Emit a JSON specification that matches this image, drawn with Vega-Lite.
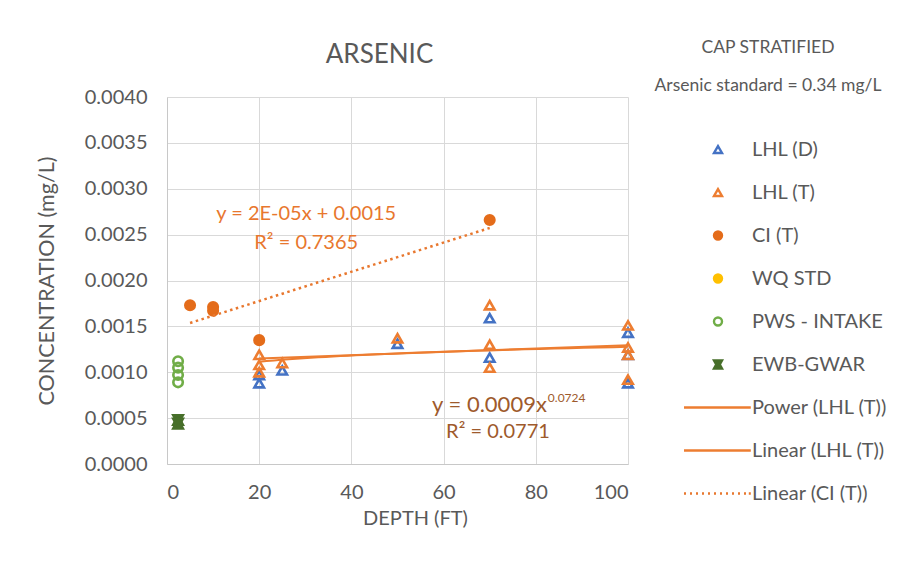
{
  "$schema": "https://vega.github.io/schema/vega-lite/v6.json",
  "width": 461,
  "height": 367,
  "autosize": {"type": "none"},
  "padding": {"left": 167, "top": 97, "right": 285, "bottom": 107},
  "background": "white",
  "title": {
    "text": "ARSENIC",
    "font": "Lato",
    "fontSize": 26,
    "fontWeight": "normal",
    "color": "#595959",
    "frame": "group",
    "anchor": "middle",
    "dx": -18,
    "offset": -29
  },
  "config": {
    "view": {"stroke": null},
    "axis": {
      "labelFont": "Lato",
      "titleFont": "Lato",
      "labelColor": "#595959",
      "titleColor": "#595959",
      "titleFontWeight": "normal",
      "gridColor": "#d9d9d9",
      "domainColor": "#c8c8c8",
      "ticks": false,
      "labelFontSize": 20
    }
  },
  "datasets": {
    "pts": [
      {"series": "LHL (D)", "depth": 20, "conc": 0.00097},
      {"series": "LHL (D)", "depth": 20, "conc": 0.00088},
      {"series": "LHL (D)", "depth": 25, "conc": 0.00102},
      {"series": "LHL (D)", "depth": 50, "conc": 0.00131},
      {"series": "LHL (D)", "depth": 70, "conc": 0.00159},
      {"series": "LHL (D)", "depth": 70, "conc": 0.00116},
      {"series": "LHL (D)", "depth": 100, "conc": 0.00143},
      {"series": "LHL (D)", "depth": 100, "conc": 0.00119},
      {"series": "LHL (D)", "depth": 100, "conc": 0.00088},
      {"series": "LHL (T)", "depth": 20, "conc": 0.00119},
      {"series": "LHL (T)", "depth": 20, "conc": 0.00108},
      {"series": "LHL (T)", "depth": 20, "conc": 0.00100},
      {"series": "LHL (T)", "depth": 25, "conc": 0.00110},
      {"series": "LHL (T)", "depth": 50, "conc": 0.00137},
      {"series": "LHL (T)", "depth": 70, "conc": 0.00173},
      {"series": "LHL (T)", "depth": 70, "conc": 0.00130},
      {"series": "LHL (T)", "depth": 70, "conc": 0.00105},
      {"series": "LHL (T)", "depth": 100, "conc": 0.00151},
      {"series": "LHL (T)", "depth": 100, "conc": 0.00127},
      {"series": "LHL (T)", "depth": 100, "conc": 0.00119},
      {"series": "LHL (T)", "depth": 100, "conc": 0.00092},
      {"series": "CI (T)", "depth": 5, "conc": 0.00173},
      {"series": "CI (T)", "depth": 10, "conc": 0.00171},
      {"series": "CI (T)", "depth": 10, "conc": 0.00167},
      {"series": "CI (T)", "depth": 20, "conc": 0.00135},
      {"series": "CI (T)", "depth": 70, "conc": 0.00266},
      {"series": "PWS - INTAKE", "depth": 2.4, "conc": 0.00112},
      {"series": "PWS - INTAKE", "depth": 2.4, "conc": 0.00105},
      {"series": "PWS - INTAKE", "depth": 2.4, "conc": 0.00097},
      {"series": "PWS - INTAKE", "depth": 2.4, "conc": 0.00089},
      {"series": "EWB-GWAR", "depth": 2.4, "conc": 0.00048},
      {"series": "EWB-GWAR", "depth": 2.4, "conc": 0.00044}
    ]
  },
  "layer": [
    {
      "data": {"name": "pts"},
      "encoding": {
        "x": {
          "field": "depth", "type": "quantitative",
          "scale": {"domain": [0, 100], "nice": false},
          "axis": {"values": [0, 20, 40, 60, 80, 100], "title": "DEPTH (FT)", "titleFontSize": 20, "labelPadding": 18, "titlePadding": 6, "titleX": 248}
        },
        "y": {
          "field": "conc", "type": "quantitative",
          "scale": {"domain": [0, 0.004], "nice": false},
          "axis": {"values": [0, 0.0005, 0.001, 0.0015, 0.002, 0.0025, 0.003, 0.0035, 0.004], "format": ".4f", "title": "CONCENTRATION (mg/L)", "titleFontSize": 21.5, "labelPadding": 20, "titlePadding": 26}
        }
      },
      "layer": [
        {
          "mark": {"type": "point", "strokeWidth": 2.6, "opacity": 1, "clip": false},
          "encoding": {
            "stroke": {
              "field": "series", "type": "nominal",
              "scale": {
                "domain": ["LHL (D)", "LHL (T)", "CI (T)", "WQ STD", "PWS - INTAKE", "EWB-GWAR", "Power (LHL (T))", "Linear (LHL (T))", "Linear (CI (T))"],
                "range": ["#4472C4", "#ED7D31", "#E46C1A", "#FFC000", "#70AD47", "#476F2A", "#ED7D31", "#ED7D31", "#E8772E"]
              },
              "legend": {
                "orient": "none",
                "direction": "vertical",
                "legendX": 481,
                "legendY": -58,
                "padding": 0,
                "title": ["CAP STRATIFIED", "Arsenic standard = 0.34 mg/L"],
                "titleFont": "Lato",
                "titleFontSize": 17.5,
                "titleFontWeight": "normal",
                "titleColor": "#595959",
                "titleLineHeight": 38,
                "titleAnchor": "middle",
                "titleLimit": 500,
                "titlePadding": 45,
                "labelFont": "Lato",
                "labelFontSize": 20,
                "labelColor": "#595959",
                "labelOffset": 24,
                "symbolOffset": 60,
                "labelLimit": 300,
                "symbolSize": 64,
                "symbolStrokeWidth": 2.4,
                "rowPadding": 23
              }
            },
            "fill": {
              "field": "series", "type": "nominal",
              "scale": {
                "domain": ["LHL (D)", "LHL (T)", "CI (T)", "WQ STD", "PWS - INTAKE", "EWB-GWAR", "Power (LHL (T))", "Linear (LHL (T))", "Linear (CI (T))"],
                "range": ["transparent", "transparent", "#E46C1A", "#FFC000", "transparent", "#476F2A", "transparent", "transparent", "transparent"]
              },
              "legend": {
                "orient": "none",
                "direction": "vertical",
                "legendX": 481,
                "legendY": -58,
                "padding": 0,
                "title": ["CAP STRATIFIED", "Arsenic standard = 0.34 mg/L"],
                "titleFont": "Lato",
                "titleFontSize": 17.5,
                "titleFontWeight": "normal",
                "titleColor": "#595959",
                "titleLineHeight": 38,
                "titleAnchor": "middle",
                "titleLimit": 500,
                "titlePadding": 45,
                "labelFont": "Lato",
                "labelFontSize": 20,
                "labelColor": "#595959",
                "labelOffset": 24,
                "symbolOffset": 60,
                "labelLimit": 300,
                "symbolSize": 64,
                "symbolStrokeWidth": 2.4,
                "rowPadding": 23
              }
            },
            "shape": {
              "field": "series", "type": "nominal",
              "scale": {
                "domain": ["LHL (D)", "LHL (T)", "CI (T)", "WQ STD", "PWS - INTAKE", "EWB-GWAR", "Power (LHL (T))", "Linear (LHL (T))", "Linear (CI (T))"],
                "range": ["triangle-up", "triangle-up", "circle", "circle", "circle", "M-1,-1H1L0.45,0L1,1H-1L-0.45,0Z", "M-8.5,0H8.2", "M-8.5,0H8.2", "M-8.5,0h0.5M-7,0h0.5M-5.5,0h0.5M-4,0h0.5M-2.5,0h0.5M-1,0h0.5M0.5,0h0.5M2,0h0.5M3.5,0h0.5M5,0h0.5M6.5,0h0.5M7.7,0h0.5"]
              },
              "legend": {
                "orient": "none",
                "direction": "vertical",
                "legendX": 481,
                "legendY": -58,
                "padding": 0,
                "title": ["CAP STRATIFIED", "Arsenic standard = 0.34 mg/L"],
                "titleFont": "Lato",
                "titleFontSize": 17.5,
                "titleFontWeight": "normal",
                "titleColor": "#595959",
                "titleLineHeight": 38,
                "titleAnchor": "middle",
                "titleLimit": 500,
                "titlePadding": 45,
                "labelFont": "Lato",
                "labelFontSize": 20,
                "labelColor": "#595959",
                "labelOffset": 24,
                "symbolOffset": 60,
                "labelLimit": 300,
                "symbolSize": 64,
                "symbolStrokeWidth": 2.4,
                "rowPadding": 23
              }
            },
            "size": {
              "field": "series", "type": "nominal",
              "scale": {
                "domain": ["LHL (D)", "LHL (T)", "CI (T)", "PWS - INTAKE", "EWB-GWAR"],
                "range": [90, 90, 100, 60, 80]
              },
              "legend": null
            }
          }
        },
        {
          "transform": [{"filter": "datum.series == 'LHL (T)'"}, {"regression": "conc", "on": "depth", "method": "pow"}],
          "mark": {"type": "line", "strokeWidth": 2, "color": "#ED7D31"}
        },
        {
          "transform": [{"filter": "datum.series == 'LHL (T)'"}, {"regression": "conc", "on": "depth", "method": "linear"}],
          "mark": {"type": "line", "strokeWidth": 2, "color": "#ED7D31"}
        },
        {
          "transform": [{"filter": "datum.series == 'CI (T)'"}, {"regression": "conc", "on": "depth", "method": "linear"}],
          "mark": {"type": "line", "strokeWidth": 2.5, "strokeDash": [2.5, 3.5], "color": "#E8772E"}
        }
      ]
    },
    {
      "data": {"values": [{}]},
      "mark": {"type": "text", "font": "Lato", "fontSize": 20, "color": "#E8772E", "align": "center", "baseline": "middle", "text": "y = 2E-05x + 0.0015"},
      "encoding": {"x": {"datum": 30.2}, "y": {"datum": 0.002725}}
    },
    {
      "data": {"values": [{}]},
      "mark": {"type": "text", "font": "Lato", "fontSize": 20, "color": "#E8772E", "align": "center", "baseline": "middle", "text": "R² = 0.7365"},
      "encoding": {"x": {"datum": 30.2}, "y": {"datum": 0.00241}}
    },
    {
      "data": {"values": [{}]},
      "mark": {"type": "text", "font": "Lato", "fontSize": 22, "color": "#9E5A2C", "align": "right", "baseline": "middle", "text": "y = 0.0009x"},
      "encoding": {"x": {"datum": 82.4}, "y": {"datum": 0.000643}}
    },
    {
      "data": {"values": [{}]},
      "mark": {"type": "text", "font": "Lato", "fontSize": 12, "color": "#9E5A2C", "align": "left", "baseline": "middle", "dx": 1, "dy": -7, "text": "0.0724"},
      "encoding": {"x": {"datum": 82.4}, "y": {"datum": 0.000643}}
    },
    {
      "data": {"values": [{}]},
      "mark": {"type": "text", "font": "Lato", "fontSize": 20, "color": "#9E5A2C", "align": "center", "baseline": "middle", "text": "R² = 0.0771"},
      "encoding": {"x": {"datum": 71.8}, "y": {"datum": 0.000349}}
    }
  ]
}
